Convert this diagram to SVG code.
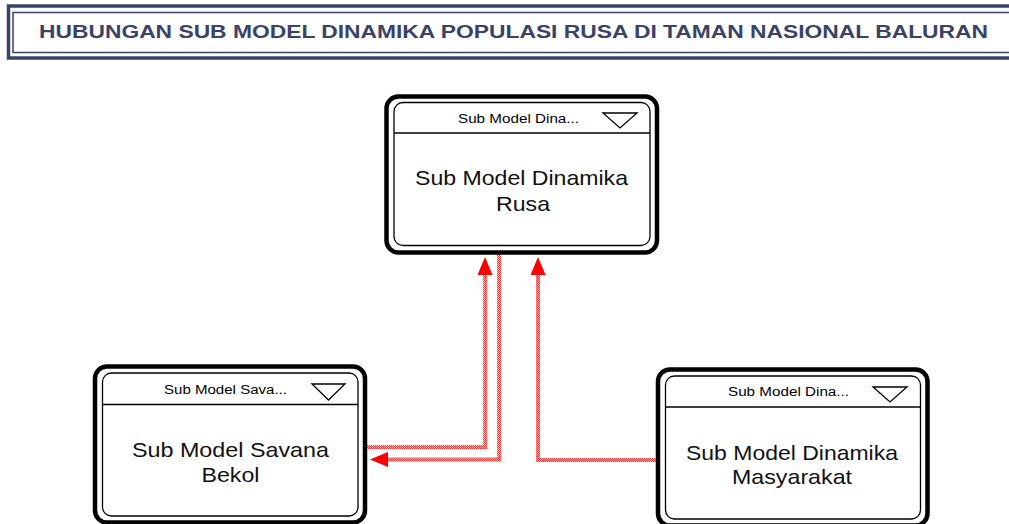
<svg xmlns="http://www.w3.org/2000/svg" width="1009" height="524" viewBox="0 0 1009 524">
<style>
.outer{fill:#fff;stroke:#000;stroke-width:4.5}
.inner{fill:none;stroke:#000;stroke-width:1.3}
.sep{stroke:#000;stroke-width:1.3}
.tri{fill:#fff;stroke:#000;stroke-width:1.3}
.hdr{font-family:"Liberation Sans",Arial,sans-serif;font-size:12.5px;fill:#000;text-anchor:middle}
.body{font-family:"Liberation Sans",Arial,sans-serif;font-size:21px;fill:#111;text-anchor:middle}
.title{font-family:"Liberation Sans",Arial,sans-serif;font-weight:bold;font-size:17.5px;fill:#3a4268}
.conn{fill:none;stroke:url(#checker);stroke-width:4}
</style>
<defs>
<pattern id="checker" patternUnits="userSpaceOnUse" width="2" height="2">
<rect width="2" height="2" fill="#ffd0d0"/>
<rect width="1" height="1" fill="#ff3030"/>
<rect x="1" y="1" width="1" height="1" fill="#ff3030"/>
</pattern>
<marker id="arrow" markerUnits="userSpaceOnUse" markerWidth="20" markerHeight="16" refX="0" refY="7.5" orient="auto">
<path d="M0,0 L18,7.5 L0,15 Z" fill="#ff0000"/>
</marker>
</defs>
<rect width="1009" height="524" fill="#fff"/>
<g id="title">
<rect x="8.5" y="6" width="1010" height="52" fill="#fff" stroke="#3a4268" stroke-width="3.5"/>
<rect x="13" y="12.5" width="1010" height="40" fill="none" stroke="#3a4268" stroke-width="1.5"/>
<text class="title" x="39" y="37.5" textLength="949" lengthAdjust="spacingAndGlyphs">HUBUNGAN SUB MODEL DINAMIKA POPULASI RUSA DI TAMAN NASIONAL BALURAN</text>
</g>
<g id="connectors">
<path class="conn" d="M367 447 H485 V275" marker-end="url(#arrow)"/>
<path class="conn" d="M499 254 V459.5 H388" marker-end="url(#arrow)"/>
<path class="conn" d="M656 460 H538 V275" marker-end="url(#arrow)"/>
</g>
<g id="node-rusa">
<rect class="outer" x="386.5" y="96.5" width="270.5" height="156" rx="12"/>
<rect class="inner" x="394" y="102.5" width="256" height="143" rx="9"/>
<line class="sep" x1="394" y1="133" x2="650" y2="133"/>
<polygon class="tri" points="603,113 637,113 620,128"/>
<text class="hdr" x="518.5" y="123" textLength="121" lengthAdjust="spacingAndGlyphs">Sub Model Dina...</text>
<text class="body" x="521.5" y="185" textLength="213" lengthAdjust="spacingAndGlyphs">Sub Model Dinamika</text>
<text class="body" x="523" y="211" textLength="54" lengthAdjust="spacingAndGlyphs">Rusa</text>
</g>
<g id="node-savana">
<rect class="outer" x="95" y="366.5" width="270" height="156" rx="12"/>
<rect class="inner" x="102.5" y="373" width="255.5" height="143" rx="9"/>
<line class="sep" x1="102.5" y1="404.5" x2="358" y2="404.5"/>
<polygon class="tri" points="312,384 345,384 328.5,400"/>
<text class="hdr" x="225.5" y="393.5" textLength="123" lengthAdjust="spacingAndGlyphs">Sub Model Sava...</text>
<text class="body" x="230.5" y="457" textLength="197" lengthAdjust="spacingAndGlyphs">Sub Model Savana</text>
<text class="body" x="230.5" y="482" textLength="58" lengthAdjust="spacingAndGlyphs">Bekol</text>
</g>
<g id="node-masyarakat">
<rect class="outer" x="658" y="369.5" width="269.5" height="156" rx="12"/>
<rect class="inner" x="665.5" y="376" width="255" height="143" rx="9"/>
<line class="sep" x1="665.5" y1="407" x2="920.5" y2="407"/>
<polygon class="tri" points="873,387 907,387 890,402"/>
<text class="hdr" x="788.5" y="396" textLength="121" lengthAdjust="spacingAndGlyphs">Sub Model Dina...</text>
<text class="body" x="792" y="459.5" textLength="212" lengthAdjust="spacingAndGlyphs">Sub Model Dinamika</text>
<text class="body" x="792" y="484" textLength="120" lengthAdjust="spacingAndGlyphs">Masyarakat</text>
</g>
</svg>
